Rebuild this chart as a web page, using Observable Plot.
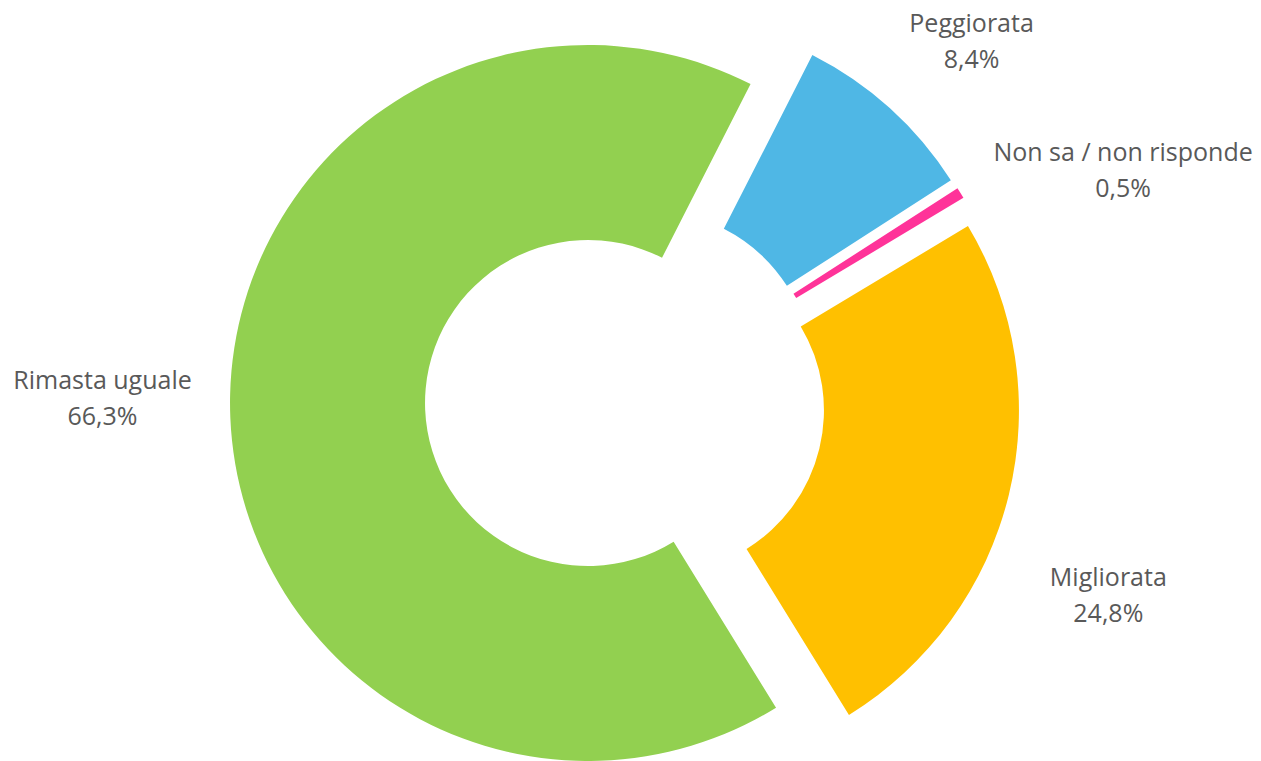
<!DOCTYPE html>
<html>
<head>
<meta charset="utf-8">
<script src="https://cdn.jsdelivr.net/npm/d3@7"></script>
<script src="https://cdn.jsdelivr.net/npm/@observablehq/plot@0.6"></script>
<style>
  html, body { margin: 0; padding: 0; background: #ffffff; }
  #chart { width: 1261px; height: 761px; overflow: hidden; }
</style>
</head>
<body>
<div id="chart"></div>
<script>
// ---- data ----
const categories = ["Peggiorata", "Non sa / non risponde", "Migliorata", "Rimasta uguale"];
const values = [8.4, 0.5, 24.8, 66.3];
const valueLabels = ["8,4%", "0,5%", "24,8%", "66,3%"];
const colors = ["#4FB7E5", "#FF3399", "#FFC000", "#92D050"];

// ---- layout (chart units = px) ----
const W = 1261, H = 761;
const center = [625, 401.5];
const rOuter = 358, rInner = 163, explode = 37;
const startDeg = 27;
// label block placement: polar [angle in degrees clockwise from 12 o'clock, distance from center]
const labelPolar = [[43.8, 500], [65, 549], [111.8, 520], [270.4, 523]];

const pie = d3.pie().sort(null).value(d => d.value)
  .startAngle(startDeg * Math.PI / 180)
  .endAngle((startDeg + 360) * Math.PI / 180);
const rows = categories.map((c, i) => ({category: c, value: values[i], label: valueLabels[i], lp: labelPolar[i]}));
const arcs = pie(rows);

function slices(index, scales) {
  const g = d3.create("svg:g");
  const k = scales.x(1) - scales.x(0);
  const cx = scales.x(center[0]), cy = scales.y(center[1]);
  const arcGen = d3.arc().innerRadius(rInner * k).outerRadius(rOuter * k);
  arcs.forEach((a) => {
    const mid = (a.startAngle + a.endAngle) / 2;
    const ox = cx + explode * k * Math.sin(mid);
    const oy = cy - explode * k * Math.cos(mid);
    const fill = scales.color ? scales.color(a.data.category) : colors[categories.indexOf(a.data.category)];
    g.append("path")
      .attr("transform", `translate(${ox},${oy})`)
      .attr("d", arcGen(a))
      .attr("fill", fill);
  });
  return g.node();
}

const chart = Plot.plot({
  width: W,
  height: H,
  margin: 0,
  x: {domain: [0, W], range: [0, W], axis: null},
  y: {domain: [0, H], range: [0, H], axis: null},
  color: {domain: categories, range: colors},
  style: {background: "#ffffff", overflow: "hidden"},
  marks: [
    slices,
    Plot.text(rows, {
      x: d => center[0] + d.lp[1] * Math.sin(d.lp[0] * Math.PI / 180),
      y: d => center[1] - d.lp[1] * Math.cos(d.lp[0] * Math.PI / 180),
      text: d => d.category + "\n" + d.label,
      fill: "#595959",
      fontSize: 25,
      lineHeight: 1.42,
      dy: -2.5,
      fontFamily: "Open Sans",
      textAnchor: "middle"
    })
  ]
});
document.getElementById("chart").appendChild(chart);
</script>
</body>
</html>
